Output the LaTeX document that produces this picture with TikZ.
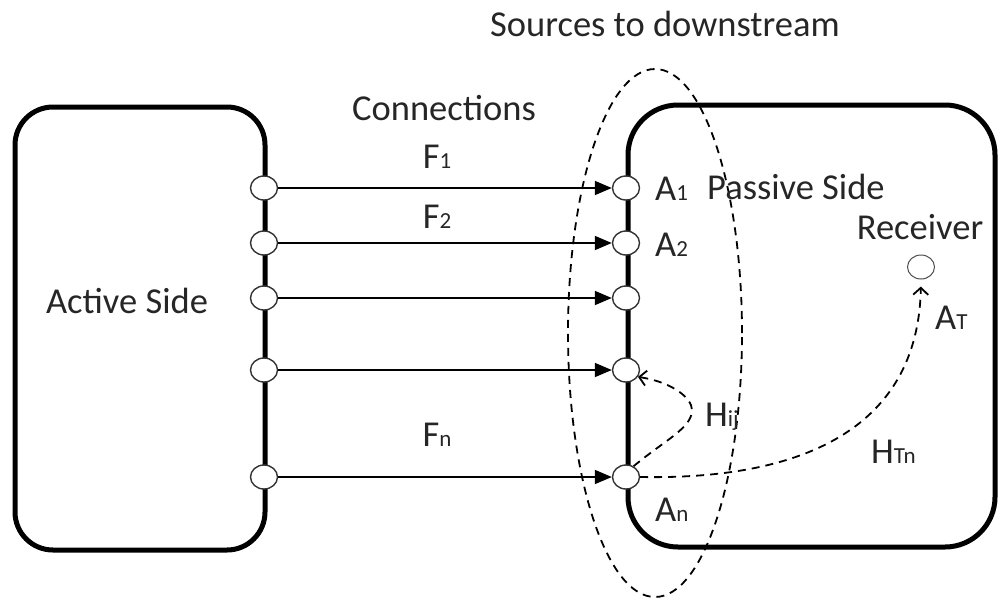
\documentclass[tikz,border=0pt]{standalone}
\usepackage{fontspec}
\setmainfont{Carlito}
\usetikzlibrary{arrows.meta,shapes.geometric}
% small index letters on the baseline
\newcommand\lowsub[1]{\raisebox{-0.8pt}{\fontsize{23}{23}\selectfont #1}}
\begin{document}
\begin{tikzpicture}[x=1pt,y=-1pt,
  font=\fontsize{36.5}{42}\selectfont,
  sidebox/.style={draw, line width=5pt, inner sep=0pt},
  port/.style={ellipse, draw=black!80, line width=1.4pt, fill=white,
    minimum width=27pt, minimum height=24pt, inner sep=0pt},
  link/.style={line width=1.8pt, -{Triangle[length=17pt,width=14pt]}},
  dsh/.style={line width=1.8pt, dash pattern=on 8pt off 6pt},
  barb/.style={-{Straight Barb[length=7pt,width=15pt]}},
  lbl/.style={text=black!85, inner sep=0pt}]
\useasboundingbox (0,0) rectangle (998,598);

% the two sides
\node[sidebox, rounded corners=38pt, minimum width=250pt, minimum height=443pt]
  (active) at (140,328.5) {};
\node[sidebox, rounded corners=50pt, minimum width=367pt, minimum height=442pt]
  (passive) at (811.5,326) {};

% group of sources at the passive boundary
\node[draw, dsh, ellipse, inner sep=0pt, minimum width=174pt, minimum height=528pt]
  (zone) at (655,333) {};

% ports and connections
\foreach \i/\y in {1/188,2/243,3/298,4/370,5/477}{
  \node[port] (l\i) at (264,\y) {};
  \node[port] (r\i) at (626,\y) {};
  \draw[link] (l\i) -- (r\i);
}

% receiver
\node[port, draw=black!70, line width=1pt] (recv) at (921,267) {};

% transfer paths
\coordinate (hpk) at (692,410);
\draw[dsh, barb] (r5.55) .. controls (665,440) and (692,428) .. (hpk)
  .. controls (692,398) and (672,382) .. (r4.-30);
\draw[dsh, barb, shorten >=7pt] (r5.east) .. controls (800,480) and (918,430) .. (recv.south);

% labels
\node[lbl, anchor=base] (title) at (665,36) {Sources to downstream};
\node[lbl, anchor=base] (conn) at (444,120) {Connections};
\node[lbl, anchor=base] (f1) at (437,168) {F\lowsub{1}};
\node[lbl, anchor=base] (f2) at (437,228) {F\lowsub{2}};
\node[lbl, anchor=base] (fn) at (437,446) {F\lowsub{n}};
\node[lbl, anchor=base] (act) at (127,313) {Active Side};
\node[lbl, anchor=base west] (pas) at (707,199) {Passive Side};
\node[lbl, anchor=base west] (a1) at (655,200) {A\lowsub{1}};
\node[lbl, anchor=base west] (a2) at (655,256) {A\lowsub{2}};
\node[lbl, anchor=base] (rcv) at (920,239) {Receiver};
\node[lbl, anchor=base west] (at) at (935,329) {A\lowsub{T}};
\node[lbl, anchor=base west] (hij) at (705,426) {H\lowsub{ij}};
\node[lbl, anchor=base west] (htn) at (871,463) {H\lowsub{Tn}};
\node[lbl, anchor=base west] (an) at (655,521) {A\lowsub{n}};
\end{tikzpicture}
\end{document}
